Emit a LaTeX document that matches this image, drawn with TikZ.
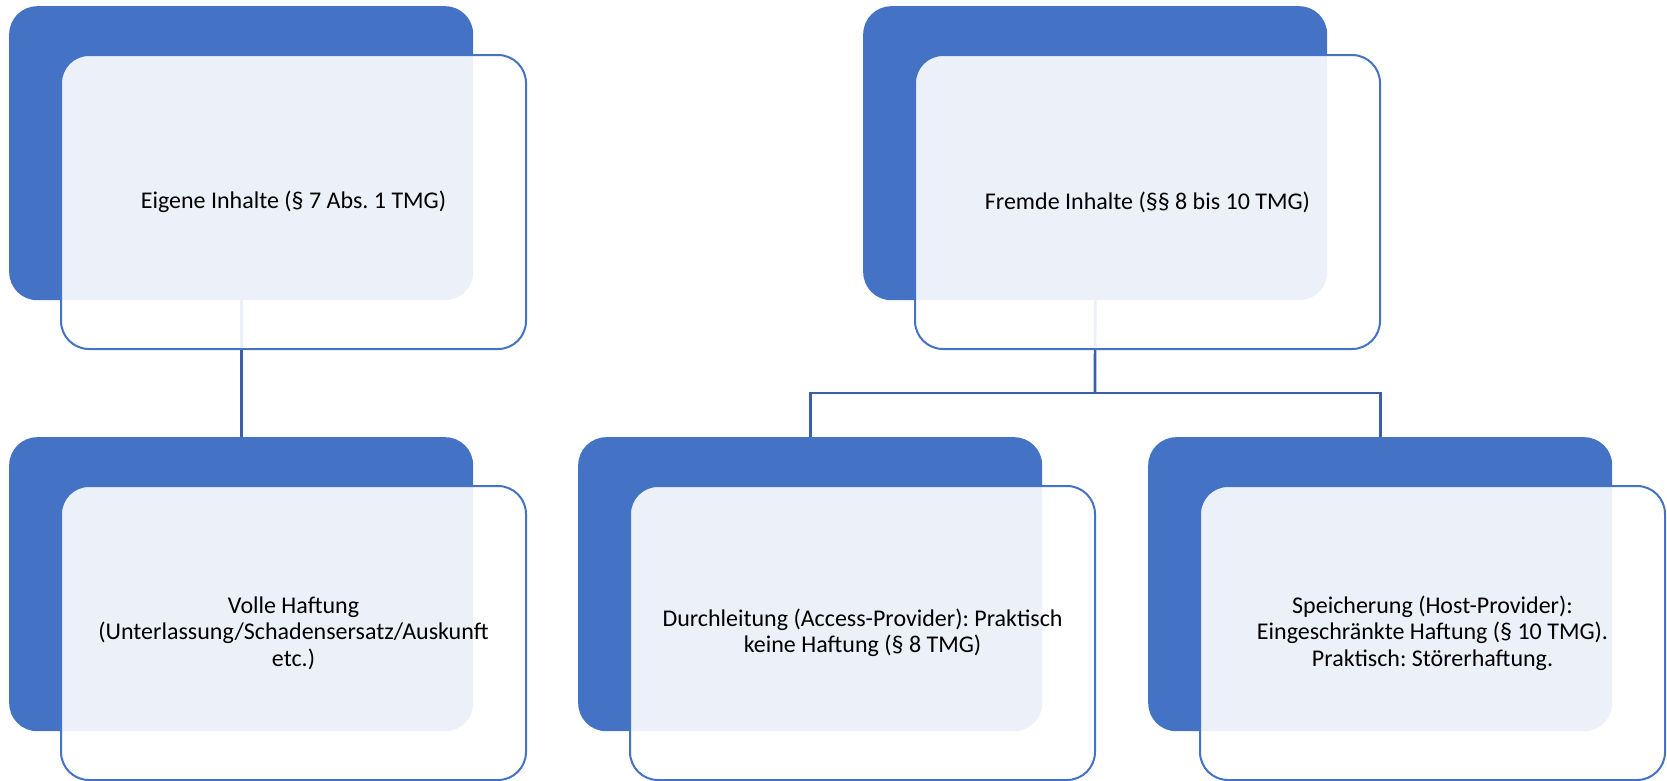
\documentclass[tikz,border=0pt]{standalone}
\usepackage{fontspec}
\setmainfont{Carlito}
\frenchspacing
\definecolor{accent}{HTML}{4472C4}
\definecolor{conn}{HTML}{3C5FAC}
\begin{document}
\begin{tikzpicture}[x=1pt,y=-1pt,
  back/.style={rectangle, fill=accent, draw=none, rounded corners=28pt,
    minimum width=464pt, minimum height=294pt, inner sep=0pt, anchor=north west},
  front/.style={rectangle, fill=white, fill opacity=0.9, text opacity=1,
    draw=accent, line width=2pt, rounded corners=28pt,
    minimum width=465pt, minimum height=294pt, inner sep=0pt, anchor=north west,
    align=center, font=\fontsize{24}{26.5}\selectfont\frenchspacing, text=black},
  link/.style={draw=conn, line width=2.7pt}]
\useasboundingbox (0,0) rectangle (1667,780);
\node[back] (bA) at (9,6) {};
\node[back] (bB) at (863,6) {};
\coordinate (bar) at (1095,393);
\node[back] (bC) at (9,437) {};
\node[back] (bD) at (578,437) {};
\node[back] (bE) at (1148,437) {};
\draw[link] (bA.south) -- (bC.north);
\draw[link] (bB.south) -- (bar);
\draw[link] (bD.north) |- (bar) -| (bE.north);
\node[front] (fA) at (60,54) {Eigene Inhalte (§ 7 Abs. 1 TMG)};
\node[front] (fB) at (914,54) {Fremde Inhalte (§§ 8 bis 10 TMG)};
\node[front] (fC) at (60,485) {Volle Haftung\\(Unterlassung/Schadensersatz/Auskunft\\etc.)};
\node[front] (fD) at (629,485) {Durchleitung (Access-Provider): Praktisch\\keine Haftung (§ 8 TMG)};
\node[front] (fE) at (1199,485) {Speicherung (Host-Provider):\\Eingeschränkte Haftung (§ 10 TMG).\\Praktisch: Störerhaftung.};
\end{tikzpicture}
\end{document}
